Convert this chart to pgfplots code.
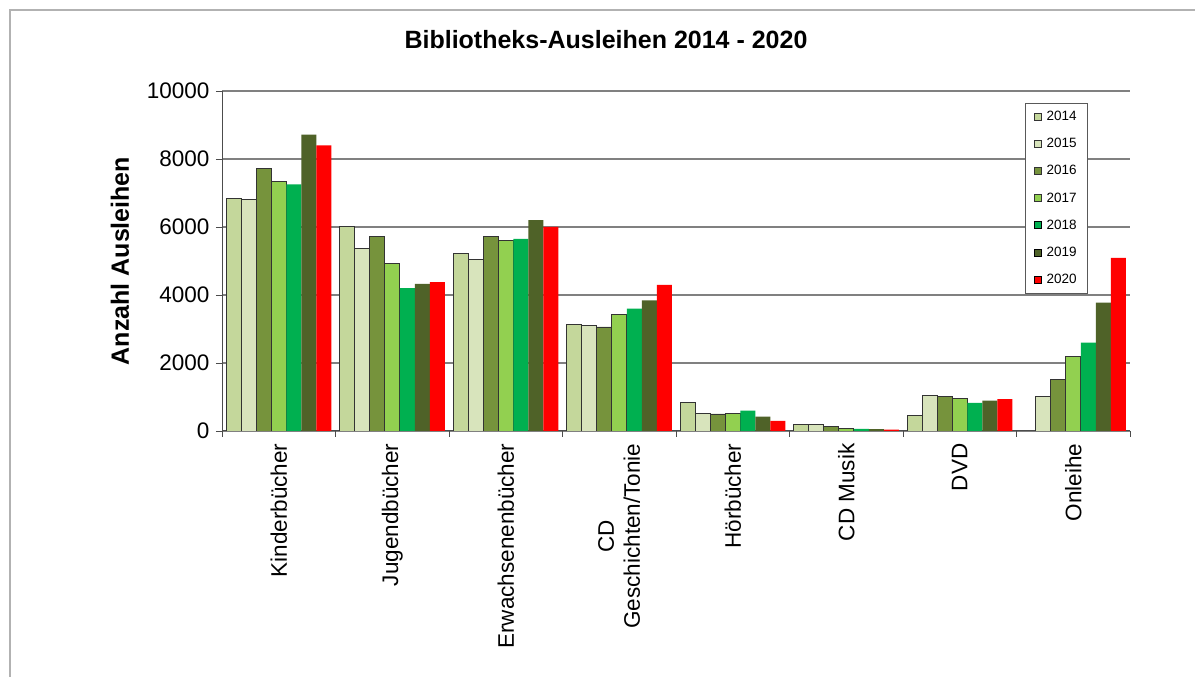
\documentclass[border=0pt]{standalone}
\usepackage{pgfplots}
\usepackage{pgfplotstable}
\pgfplotsset{compat=1.18}
\usepackage{fontspec}
\setmainfont{Liberation Sans}

\definecolor{c14}{HTML}{C4D79B}
\definecolor{c15}{HTML}{D8E4BC}
\definecolor{c16}{HTML}{76933C}
\definecolor{c17}{HTML}{92D050}
\definecolor{c18}{HTML}{00B050}
\definecolor{c19}{HTML}{4F6228}
\definecolor{c20}{HTML}{FF0000}

% Ausleihen je Medienart, 2014-2020
\pgfplotstableread{
cat y14  y15  y16  y17  y18  y19  y20
0   6850 6820 7720 7340 7250 8720 8400
1   6020 5380 5720 4920 4200 4330 4380
2   5230 5040 5720 5600 5650 6200 6000
3   3130 3110 3060 3430 3600 3840 4300
4   840  520  500  520  600  420  300
5   195  195  127  78   60   55   40
6   450  1055 1005 958  830  890  940
7   nan  1005 1515 2180 2600 3775 5095
}\ausleihen

\begin{document}
\begin{tikzpicture}[x=1pt,y=1pt]
\path[use as bounding box] (0,0) rectangle (1195,677);
\fill[white] (0,0) rectangle (1195,677);
\draw[gray!60, line width=2pt] (10,0) -- (10,667) -- (1195,667);

\begin{axis}[
    at={(222pt,246pt)}, anchor=south west,
    scale only axis, width=908pt, height=340pt,
    ybar=0pt, bar width=15pt,
    xmin=-0.5, xmax=7.5, ymin=0, ymax=10000,
    ytick={0,2000,...,10000},
    scaled y ticks=false,
    xtick={0,...,7},
    xticklabels={Kinderbücher, Jugendbücher, Erwachsenenbücher,
        {CD\\Geschichten/Tonie}, Hörbücher, CD Musik, DVD, Onleihe},
    minor xtick={-0.5,0.5,...,7.5},
    major x tick style={draw=none},
    tick align=outside,
    major tick length=6pt, minor tick length=6pt,
    tick style={black!70, line width=0.8pt},
    axis x line*=bottom, axis y line*=left,
    axis line style={black!70, line width=1pt},
    ymajorgrids,
    major grid style={draw=gray, line width=1.3pt},
    /pgf/number format/1000 sep={},
    /pgf/number format/assume math mode=true,
    tick label style={font=\fontsize{22.5}{26}\selectfont},
    yticklabel style={xshift=-3pt},
    xticklabel style={rotate=90, anchor=east, align=center, xshift=-3pt},
    legend style={at={(0.884,0.965)}, anchor=north west,
        draw=gray!70!black, line width=0.8pt,
        font=\fontsize{13.5}{15}\selectfont,
        row sep=12.2pt, column sep=3pt, inner xsep=9pt, inner ysep=6pt,
        cells={anchor=west}},
    legend image code/.code={%
        \draw[#1, line width=0.6pt] (2pt,-3.5pt) rectangle (9pt,3.5pt);},
]
\addplot[fill=c14, draw=black!80, line width=0.8pt] table[x=cat, y=y14] {\ausleihen};
\addplot[fill=c15, draw=black!80, line width=0.8pt] table[x=cat, y=y15] {\ausleihen};
\addplot[fill=c16, draw=black!80, line width=0.8pt] table[x=cat, y=y16] {\ausleihen};
\addplot[fill=c17, draw=black!80, line width=0.8pt] table[x=cat, y=y17] {\ausleihen};
\addplot[fill=c18, draw=none] table[x=cat, y=y18] {\ausleihen};
\addplot[fill=c19, draw=none] table[x=cat, y=y19] {\ausleihen};
\addplot[fill=c20, draw=none] table[x=cat, y=y20] {\ausleihen};
\legend{2014, 2015, 2016, 2017, 2018, 2019, 2020}
\end{axis}

\node[font=\bfseries\fontsize{25}{30}\selectfont] at (606,637) {Bibliotheks-Ausleihen 2014 - 2020};
\node[font=\bfseries\fontsize{25}{30}\selectfont, rotate=90] at (120,416) {Anzahl Ausleihen};
\end{tikzpicture}
\end{document}
